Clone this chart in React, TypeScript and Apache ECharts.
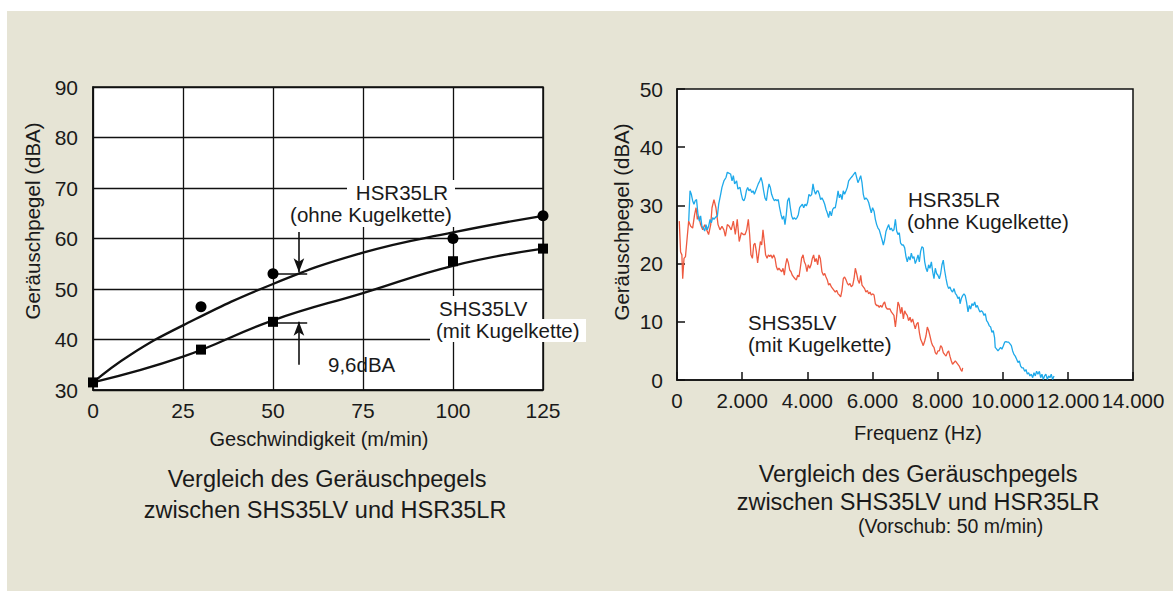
import React, { useEffect, useRef } from "react";
import * as echarts from "echarts";

const FONT = "'Liberation Sans', Arial, Helvetica, sans-serif";

// ---------- Left chart: Geräuschpegel vs Geschwindigkeit ----------
const speedTicks = [0, 25, 50, 75, 100, 125];
const hsrMeasured: number[][] = [[30, 46.5], [50, 53], [100, 60], [125, 64.5]];
const shsMeasured: number[][] = [[0, 31.5], [30, 38], [50, 43.5], [100, 55.5], [125, 58]];
const hsrFit: number[][] = [[0, 31.5], [10, 36.8], [25, 42.8], [50, 51], [75, 57.2], [100, 61.2], [125, 64.5]];
const shsFit: number[][] = [[0, 31.5], [25, 36.6], [50, 43.8], [75, 49.2], [100, 54.6], [125, 58]];
// 9,6 dBA difference markers (data coordinates)
const gapTickLines: number[][][] = [[[50, 53], [59.5, 53]], [[50, 43.4], [59.5, 43.4]]];
const gapArrows: number[][][] = [[[57.2, 61.3], [57.2, 53.3]], [[57.2, 35], [57.2, 43.5]]];

// ---------- Right chart: spectrum ----------
const freqTickLabels = ["0", "2.000", "4.000", "6.000", "8.000", "10.000", "12.000", "14.000"];
const hsrSpectrum: number[][] = [
  [360, 27.3], [400, 32.5], [440, 31.9], [480, 30.8], [520, 30.2], [560, 30.8], [600, 31.0], [645, 28.4], [685, 27.3], [725, 28.2],
  [765, 26.4], [810, 26.1], [850, 25.6], [890, 26.7], [930, 25.8], [970, 26.4], [1015, 27.6], [1055, 27.0], [1095, 27.9], [1135, 27.6],
  [1175, 27.9], [1240, 28.2], [1280, 30.2], [1340, 31.9], [1380, 33.1], [1440, 34.2], [1505, 34.8], [1545, 35.7], [1605, 35.5], [1645, 35.4],
  [1690, 34.2], [1730, 35.1], [1770, 33.7], [1830, 34.2], [1870, 32.8], [1935, 33.1], [1975, 31.9], [2015, 31.0], [2055, 30.8],
  [2090, 31.3], [2130, 32.5], [2170, 33.1], [2210, 32.5], [2250, 32.8], [2295, 32.2], [2335, 32.5], [2375, 31.9], [2415, 32.5], [2455, 33.1],
  [2495, 33.7], [2540, 34.2], [2580, 34.8], [2620, 33.9], [2660, 32.5], [2700, 31.3], [2745, 30.8], [2785, 32.5], [2825, 33.7], [2865, 33.1],
  [2905, 31.9], [2945, 31.3], [2990, 30.8], [3030, 31.0], [3070, 30.8], [3110, 31.0], [3150, 29.6], [3195, 28.4], [3235, 27.6], [3275, 28.2],
  [3315, 26.7], [3355, 28.4], [3395, 30.8], [3440, 31.3], [3480, 29.6], [3520, 28.2], [3560, 27.6], [3600, 27.9], [3645, 27.6], [3685, 27.9],
  [3725, 28.4], [3765, 29.6], [3805, 29.9], [3850, 30.2], [3890, 29.6], [3930, 30.2], [3970, 29.9], [4010, 30.5], [4050, 31.9], [4095, 31.6],
  [4135, 31.9], [4175, 33.7], [4215, 32.5], [4255, 31.9], [4300, 32.5],
  [4330, 32.5], [4370, 31.9], [4410, 31.0], [4450, 31.3], [4495, 30.8], [4535, 30.2], [4575, 29.3], [4615, 28.7], [4655, 27.9], [4695, 29.0],
  [4740, 28.2], [4780, 29.3], [4820, 29.6], [4860, 29.6], [4900, 30.8], [4945, 32.5], [4985, 31.3], [5025, 31.9], [5065, 31.0], [5105, 32.5],
  [5145, 31.9], [5190, 32.5], [5230, 33.1], [5270, 34.2], [5310, 34.5], [5350, 34.8], [5395, 35.1], [5435, 35.4], [5475, 35.7], [5515, 34.8],
  [5555, 33.9], [5600, 34.5], [5640, 35.1], [5680, 33.9], [5720, 31.9], [5760, 31.0], [5800, 31.3], [5845, 31.0], [5885, 30.5], [5925, 29.6],
  [5965, 28.7], [6005, 29.6], [6050, 29.0], [6090, 27.6], [6130, 26.7], [6170, 26.1], [6210, 25.8], [6250, 25.0], [6295, 24.1], [6335, 23.2],
  [6375, 24.1], [6415, 25.5], [6455, 26.1], [6500, 26.7],
  [6540, 25.8], [6580, 26.1], [6620, 25.6], [6660, 25.8], [6705, 27.6], [6745, 25.6], [6785, 25.0], [6825, 25.3], [6865, 23.5], [6905, 23.2],
  [6950, 23.2], [6990, 22.7], [7030, 21.2], [7070, 20.3], [7110, 21.2], [7155, 20.6], [7195, 21.8], [7235, 20.9], [7275, 21.2], [7315, 20.0],
  [7355, 20.6], [7400, 21.5], [7440, 20.3], [7480, 22.1], [7520, 22.9], [7560, 22.7], [7605, 20.3], [7645, 19.2], [7685, 18.6], [7725, 19.8],
  [7765, 19.2], [7810, 20.3], [7850, 18.6], [7890, 17.4], [7930, 19.2], [7970, 18.3], [8010, 18.0], [8055, 17.4], [8095, 18.3], [8135, 19.8],
  [8175, 20.6], [8215, 18.9], [8260, 17.4], [8300, 16.3], [8340, 15.7], [8380, 16.0], [8420, 15.4], [8460, 15.1], [8505, 15.7], [8545, 14.9],
  [8585, 14.6], [8625, 14.0], [8665, 14.3],
  [8690, 13.1], [8730, 14.0], [8770, 14.5], [8810, 14.8], [8850, 14.5], [8890, 13.4], [8935, 11.7], [8975, 12.8], [9015, 12.2], [9055, 13.1],
  [9095, 12.8], [9140, 13.4], [9180, 12.5], [9220, 12.8], [9260, 12.2], [9300, 11.7], [9345, 11.9], [9385, 11.7], [9425, 11.1], [9465, 11.4],
  [9505, 10.2], [9545, 9.9], [9590, 9.3], [9630, 9.1], [9670, 8.2], [9710, 8.5], [9750, 7.3], [9770, 5.6], [9815, 5.3], [9855, 5.0],
  [9895, 5.3], [9935, 5.6], [9975, 5.3], [10020, 5.9], [10060, 6.5], [10100, 6.6], [10140, 6.5], [10180, 6.5], [10225, 6.2], [10265, 5.9],
  [10305, 5.0], [10345, 4.4], [10385, 4.1], [10425, 3.6], [10470, 3.0], [10510, 3.3], [10550, 2.4], [10590, 2.1], [10630, 2.1], [10675, 1.5],
  [10715, 1.8], [10755, 1.0], [10795, 1.25], [10835, 0.7], [10875, 1.0], [10920, 0.4], [10960, 1.25], [11000, 0.7], [11040, 1.5], [11080, 1.0],
  [11125, 1.5], [11165, 0.4], [11205, 1.0], [11245, 0.1], [11285, 0.7], [11325, 1.0], [11370, 0.1], [11410, 0.7], [11450, 0.4], [11490, 1.0],
  [11530, 0.1], [11575, 0.7],
];
const shsSpectrum: number[][] = [
  [70, 27.3], [110, 22.0], [150, 21.5], [175, 17.4], [215, 20.9], [260, 21.2], [358, 27.3], [420, 26.4], [480, 26.1], [540, 28.4],
  [585, 29.6], [625, 27.6], [665, 28.2], [725, 26.7], [790, 25.8], [850, 26.7], [910, 25.8], [970, 25.0], [1035, 26.7], [1075, 29.6],
  [1135, 31.0], [1195, 29.6], [1260, 26.7], [1320, 25.8], [1380, 26.4], [1440, 25.8], [1485, 24.7], [1545, 26.7], [1605, 26.4], [1665, 25.8],
  [1730, 27.3], [1790, 25.0], [1850, 27.6], [1910, 23.8], [1975, 25.3], [2035, 25.0],
  [2090, 25.0], [2140, 25.8], [2190, 27.6], [2230, 25.0], [2270, 21.5], [2315, 20.9], [2355, 23.2], [2395, 23.5], [2435, 22.1], [2475, 20.1],
  [2520, 22.1], [2560, 23.8], [2600, 23.2], [2640, 25.8], [2680, 23.8], [2720, 21.5], [2765, 20.9], [2805, 21.5], [2845, 21.2], [2885, 21.5],
  [2925, 20.9], [2970, 21.5], [3010, 20.9], [3050, 19.5], [3090, 18.9], [3130, 19.2], [3170, 18.9], [3215, 18.6], [3255, 19.2], [3295, 18.0],
  [3335, 19.8], [3375, 20.9], [3420, 20.1], [3460, 18.9], [3500, 18.6], [3540, 18.0], [3580, 17.7], [3625, 17.4], [3665, 17.2], [3705, 18.0],
  [3745, 17.7], [3785, 19.2], [3825, 20.9], [3870, 21.5], [3910, 20.3], [3950, 19.8], [3990, 18.6], [4030, 19.8], [4075, 19.2], [4115, 19.8],
  [4155, 20.9], [4195, 21.5], [4235, 20.3], [4275, 20.9], [4320, 19.8], [4360, 21.5], [4400, 20.9],
  [4450, 18.6], [4495, 18.0], [4535, 18.3], [4575, 17.7], [4615, 17.2], [4655, 16.3], [4695, 16.6], [4740, 16.0], [4780, 15.7], [4820, 15.4],
  [4860, 15.1], [4900, 15.4], [4945, 14.8], [4985, 14.6], [5025, 14.3], [5065, 15.4], [5105, 17.4], [5145, 17.7], [5190, 17.2], [5230, 16.6],
  [5270, 16.3], [5310, 16.6], [5350, 16.0], [5395, 16.3], [5435, 17.4], [5475, 19.2], [5515, 18.3], [5555, 17.2], [5600, 16.6], [5640, 18.0],
  [5680, 16.3], [5720, 16.0], [5760, 15.7], [5800, 15.1], [5845, 15.4], [5885, 14.8], [5925, 15.1], [5965, 14.6], [6005, 14.8], [6050, 14.6],
  [6090, 13.1], [6130, 12.8], [6170, 12.8], [6210, 12.5], [6250, 12.8], [6295, 12.5], [6335, 13.1], [6375, 13.4], [6415, 12.5], [6455, 12.2],
  [6540, 12.2], [6580, 11.7], [6620, 11.4], [6660, 11.1], [6705, 9.1], [6745, 11.1], [6785, 13.4], [6825, 12.8], [6865, 11.4], [6905, 12.5],
  [6950, 10.5], [6990, 11.9], [7030, 11.4], [7070, 11.1], [7110, 10.2], [7155, 10.8], [7195, 9.9], [7235, 10.5], [7275, 9.6], [7315, 8.8],
  [7355, 9.6], [7400, 9.9], [7440, 8.2], [7480, 7.0], [7520, 6.5], [7560, 5.9], [7605, 6.7], [7645, 7.6], [7685, 9.1], [7725, 8.5],
  [7765, 7.6], [7810, 6.5], [7850, 5.9], [7890, 5.6], [7930, 4.7], [7970, 4.4], [8010, 5.0], [8055, 5.0], [8095, 5.9], [8135, 5.6],
  [8175, 4.7], [8215, 4.4], [8260, 4.1], [8300, 4.7], [8340, 5.0], [8380, 4.1], [8420, 3.3], [8460, 2.7], [8505, 3.0], [8545, 3.3],
  [8585, 3.0], [8625, 2.7], [8665, 2.4], [8710, 1.8], [8750, 1.5], [8770, 2.1],
];

const txt = (text: string, x: number, y: number, size: number, align = "center", extra: any = {}) => ({
  type: "text",
  x,
  y,
  z: 20,
  silent: true,
  ...extra,
  style: {
    text,
    fill: "#1a1a1a",
    fontSize: size,
    fontFamily: FONT,
    align,
    verticalAlign: "middle",
    textAlign: align,
    textVerticalAlign: "middle",
  },
});

const whiteRect = (x: number, y: number, w: number, h: number) => ({
  type: "rect",
  z: 15,
  silent: true,
  shape: { x, y, width: w, height: h },
  style: { fill: "#ffffff" },
});

export default function App() {
  const ref = useRef<HTMLDivElement>(null);

  useEffect(() => {
    document.body.style.margin = "0";
    if (!ref.current) return;
    const chart = echarts.init(ref.current, undefined, { renderer: "svg" });

    const axisLabel = { color: "#1a1a1a", fontSize: 21, fontFamily: FONT };

    const option: any = {
      animation: false,
      backgroundColor: "transparent",
      textStyle: { fontFamily: FONT },
      grid: [
        { left: 93, top: 87, width: 450, height: 303, show: true, backgroundColor: "#ffffff", borderColor: "#111", borderWidth: 1.5 },
        { left: 677, top: 89, width: 456, height: 291, show: true, backgroundColor: "#ffffff", borderColor: "#111", borderWidth: 1.5 },
      ],
      xAxis: [
        {
          gridIndex: 0, type: "value", min: 0, max: 125, interval: 25,
          axisLine: { show: true, lineStyle: { color: "#111", width: 1.5 } },
          axisTick: { show: false },
          axisLabel: { ...axisLabel, margin: 10 },
          splitLine: { show: true, lineStyle: { color: "#111", width: 1.3 } },
        },
        {
          gridIndex: 1, type: "value", min: 0, max: 14000, interval: 2000,
          axisLine: { show: true, lineStyle: { color: "#111", width: 1.5 } },
          axisTick: { show: true, inside: true, length: 8, lineStyle: { color: "#111", width: 1.5 } },
          axisLabel: { ...axisLabel, fontSize: 20.5, margin: 10, formatter: (v: number) => freqTickLabels[Math.round(v / 2000)] },
          splitLine: { show: false },
        },
      ],
      yAxis: [
        {
          gridIndex: 0, type: "value", min: 30, max: 90, interval: 10,
          axisLine: { show: true, lineStyle: { color: "#111", width: 1.5 } },
          axisTick: { show: false },
          axisLabel: { ...axisLabel, margin: 15 },
          splitLine: { show: true, lineStyle: { color: "#111", width: 1.3 } },
        },
        {
          gridIndex: 1, type: "value", min: 0, max: 50, interval: 10,
          axisLine: { show: true, lineStyle: { color: "#111", width: 1.5 } },
          axisTick: { show: true, inside: true, length: 8, lineStyle: { color: "#111", width: 1.5 } },
          axisLabel: { ...axisLabel, margin: 14 },
          splitLine: { show: false },
        },
      ],
      series: [
        {
          name: "HSR35LR Kurve", type: "line", xAxisIndex: 0, yAxisIndex: 0, data: hsrFit,
          smooth: 0.45, showSymbol: false, symbol: "none",
          lineStyle: { color: "#111", width: 2.3 }, z: 3,
        },
        {
          name: "SHS35LV Kurve", type: "line", xAxisIndex: 0, yAxisIndex: 0, data: shsFit,
          smooth: 0.45, showSymbol: false, symbol: "none",
          lineStyle: { color: "#111", width: 2.3 }, z: 3,
          markLine: {
            silent: true,
            symbol: ["none", "none"],
            symbolSize: [8, 14],
            label: { show: false },
            lineStyle: { color: "#111", width: 1.6, type: "solid" },
            data: [
              ...gapTickLines.map((l) => [{ coord: l[0] }, { coord: l[1] }]),
              ...gapArrows.map((l) => [{ coord: l[0], symbol: "none" }, { coord: l[1], symbol: "arrow" }]),
            ],
          },
        },
        {
          name: "HSR35LR", type: "scatter", xAxisIndex: 0, yAxisIndex: 0, data: hsrMeasured,
          symbol: "circle", symbolSize: 11, itemStyle: { color: "#000", opacity: 1 }, z: 5,
        },
        {
          name: "SHS35LV", type: "scatter", xAxisIndex: 0, yAxisIndex: 0, data: shsMeasured,
          symbol: "rect", symbolSize: 10, itemStyle: { color: "#000", opacity: 1 }, z: 5,
        },
        {
          name: "SHS35LV Spektrum", type: "line", xAxisIndex: 1, yAxisIndex: 1, data: shsSpectrum,
          showSymbol: false, symbol: "none", lineStyle: { color: "#ee5a40", width: 1.3 }, z: 3,
        },
        {
          name: "HSR35LR Spektrum", type: "line", xAxisIndex: 1, yAxisIndex: 1, data: hsrSpectrum,
          showSymbol: false, symbol: "none", lineStyle: { color: "#1ea9ea", width: 1.3 }, z: 4,
        },
      ],
      graphic: [
        // left chart annotation boxes
        whiteRect(347, 180, 108, 23),
        whiteRect(285, 203, 173, 24),
        whiteRect(433, 296, 99, 23),
        whiteRect(430, 319, 156, 23),
        txt("HSR35LR", 402, 192, 20.5),
        txt("(ohne Kugelkette)", 371, 214, 20.5),
        txt("SHS35LV", 439, 308, 20.5, "left"),
        txt("(mit Kugelkette)", 436, 330, 20.5, "left"),
        txt("9,6dBA", 328, 364, 20.5, "left"),
        // left axis titles
        txt("Geräuschpegel (dBA)", 32, 221, 20.5, "center", { rotation: Math.PI / 2 }),
        txt("Geschwindigkeit (m/min)", 319, 439, 20),
        // right chart annotations
        txt("HSR35LR", 908, 199, 20.5, "left"),
        txt("(ohne Kugelkette)", 907, 221, 20.5, "left"),
        txt("SHS35LV", 748, 322, 20.5, "left"),
        txt("(mit Kugelkette)", 748, 344, 20.5, "left"),
        // right axis titles
        txt("Geräuschpegel (dBA)", 621, 222, 20.5, "center", { rotation: Math.PI / 2 }),
        txt("Frequenz (Hz)", 918, 433, 20),
        // captions
        txt("Vergleich des Geräuschpegels", 327, 479, 23.5),
        txt("zwischen SHS35LV und HSR35LR", 325, 510, 23.5),
        txt("Vergleich des Geräuschpegels", 918, 474, 23.5),
        txt("zwischen SHS35LV und HSR35LR", 918, 502, 23.5),
        txt("(Vorschub: 50 m/min)", 858, 526, 19.5, "left"),
      ],
    };

    chart.setOption(option);
    return () => chart.dispose();
  }, []);

  return (
    <div style={{ position: "relative", width: 1173, height: 601, background: "#ffffff", overflow: "hidden" }}>
      <div style={{ position: "absolute", left: 7, top: 11, width: 1166, height: 580, background: "#e6e4d5" }} />
      <div ref={ref} style={{ position: "absolute", left: 0, top: 0, width: 1173, height: 601 }} />
    </div>
  );
}
